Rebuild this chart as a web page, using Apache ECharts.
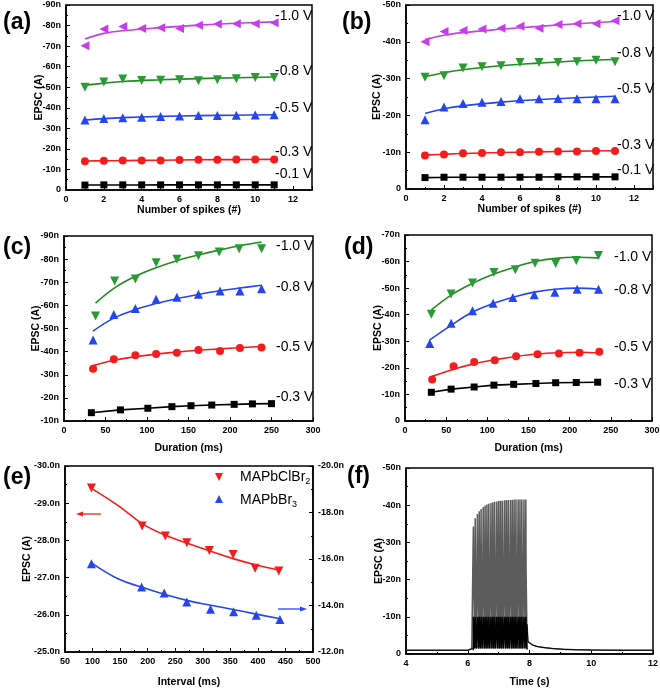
<!DOCTYPE html>
<html><head><meta charset="utf-8">
<script src="https://cdn.jsdelivr.net/npm/echarts@6/dist/echarts.min.js"></script>
<style>html,body{margin:0;padding:0;background:#fff}#c{width:660px;height:689px}</style>
</head><body><div id="c"></div>
<script>
// ---------- (a) ----------
const aX = [1,2,3,4,5,6,7,8,9,10,11];
const aV10 = [70.2,78.3,79.6,78.6,78.9,78.6,80.2,80.7,80.9,80.9,81.4];
const aV08 = [50.0,52.5,54.0,53.3,53.4,53.6,53.1,53.6,54.1,54.7,54.7];
const aV05 = [34.0,34.8,35.2,35.4,35.8,36.0,36.2,36.3,36.4,36.5,36.6];
const aV03 = [14.0,14.2,14.3,14.4,14.4,14.6,14.7,14.7,14.8,14.8,14.8];
const aV01 = [2.4,2.5,2.5,2.5,2.5,2.5,2.5,2.5,2.5,2.5,2.5];
const aFitX = [1,2,3,5,7,9,11];
const aFit10 = [73.5,76.2,77.5,79.0,80.2,81.1,81.8];
const aFit08 = [51.0,52.0,52.8,53.6,54.2,54.6,55.0];
const aFit05 = [34.0,34.7,35.2,35.8,36.2,36.4,36.6];
const aFit03 = [14.1,14.2,14.3,14.5,14.7,14.8,14.9];
const aFit01 = [2.4,2.4,2.4,2.5,2.5,2.5,2.5];
// ---------- (b) ----------
const bX = [1,2,3,4,5,6,7,8,9,10,11];
const bV10 = [40.0,42.8,43.1,43.5,43.7,44.2,43.7,44.7,44.9,44.9,45.7];
const bV08 = [30.4,30.8,32.9,33.2,33.5,34.4,34.4,34.4,34.6,35.0,34.6];
const bV05 = [18.8,22.3,23.2,23.6,23.8,24.5,24.5,24.6,24.5,24.5,24.5];
const bV03 = [9.1,9.4,9.7,9.8,10.0,10.0,10.1,10.2,10.2,10.3,10.3];
const bV01 = [3.1,3.2,3.2,3.2,3.2,3.2,3.2,3.3,3.3,3.3,3.3];
const bFitX = [1,2,3,5,7,9,11];
const bFit10 = [40.6,41.8,42.5,43.4,44.2,44.9,45.5];
const bFit08 = [30.5,31.6,32.4,33.5,34.2,34.8,35.2];
const bFit05 = [20.5,21.8,22.6,23.6,24.3,24.8,25.2];
const bFit03 = [9.2,9.45,9.65,9.9,10.1,10.3,10.4];
const bFit01 = [3.1,3.15,3.2,3.2,3.25,3.3,3.3];
// ---------- (c) ----------
const cX10 = [38,61,86,111,136,162,187,211,238];
const cV10 = [55.4,70.5,71.4,78.4,79.9,81.5,83.1,84.5,84.5];
const cX08 = [35,60,86,111,136,162,188,212,238];
const cV08 = [45.0,56.1,58.7,62.6,63.5,64.8,66.2,66.2,67.2];
const cX05 = [35,60,86,111,136,162,188,212,238];
const cV05 = [32.6,36.7,38.4,39.0,39.5,40.7,40.3,41.6,41.8];
const cX03 = [33,68,101,130,153,178,205,227,250];
const cV03 = [13.6,14.8,15.5,16.2,16.6,16.9,17.2,17.4,17.5];
const cFitX10 = [38,61,86,111,136,162,188,212,238];
const cFit10 = [61.0,67.6,72.6,76.3,79.3,81.8,84.0,85.8,87.4];
const cFitX = [35,60,86,111,136,162,188,212,238];
const cFit08 = [48.9,54.5,58.2,60.8,62.9,64.7,66.3,67.5,68.7];
const cFit05 = [34.0,36.3,37.8,38.9,39.8,40.6,41.2,41.7,42.2];
// ---------- (d) ----------
const dX10 = [32,56,82,108,134,158,183,208,235];
const dV10 = [40.2,47.8,51.9,55.9,56.9,59.4,59.3,60.4,62.3];
const dX08 = [30,56,82,107,131,157,182,209,235];
const dV08 = [29.2,36.8,41.5,44.3,46.5,47.5,48.5,49.6,49.6];
const dX05 = [33,59,84,109,135,161,187,212,236];
const dV05 = [15.6,20.6,22.2,22.9,24.4,25.1,25.4,25.7,26.1];
const dX03 = [32,56,84,108,132,159,183,208,234];
const dV03 = [10.8,12.0,12.8,13.5,13.8,14.1,14.4,14.5,14.6];
const dFitX10 = [32,56,82,108,134,158,183,208,235];
const dFit10 = [41.8,47.4,51.8,55.3,58.0,60.0,61.2,61.6,61.4];
const dFitX08 = [30,56,82,107,131,157,182,209,235];
const dFit08 = [30.5,36.0,41.0,44.2,46.6,48.5,49.6,50.0,49.6];
const dFitX05 = [33,60,85,110,135,160,186,211,236];
const dFit05 = [16.8,19.6,21.6,23.1,24.3,25.2,25.7,25.9,25.6];
// ---------- (e) ----------
const eXr = [98,190,232,271,312,355,395,438];
const eVr = [29.41,28.39,28.12,27.94,27.73,27.62,27.25,27.18];
const eXb = [98,189,230,271,314,356,397,440];
const eVb = [15.80,14.80,14.54,14.15,13.84,13.73,13.58,13.40];
const eFitX = [100,146,190,230,271,312,355,397,440];
const eFitR = [29.38,28.94,28.45,28.15,27.93,27.72,27.51,27.34,27.2];
const eFitB = [15.80,15.15,14.78,14.48,14.22,14.02,13.83,13.63,13.43];
// ---------- (f) ----------
const fBaseT = [4, 5, 6.0, 6.02, 6.13, 6.15];
const fBase = [1.0, 1.0, 1.0, 1.4, 1.4, 1.0];
const fSpikeT = [6.18,6.24,6.31,6.37,6.43,6.50,6.56,6.62,6.68,6.75,6.81,6.87,6.94,7.00,7.06,7.12,7.19,7.25,7.31,7.38,7.44,7.50,7.56,7.63,7.69,7.75,7.82,7.88];
const fPeak = [34.3,36.5,37.6,38.4,39.0,39.5,39.9,40.2,40.4,40.6,40.8,40.9,41.0,41.1,41.2,41.2,41.3,41.3,41.4,41.4,41.4,41.5,41.5,41.5,41.5,41.5,41.5,41.5];
const fShapeDt = [0, 0.002, 0.01, 0.03, 0.034, 0.05];
const fShapeLv = [1.0, null, 22, 10, 1.5, 1.2];
const fLowDt = [0, 0.001, 0.03, 0.034, 0.05];
const fLowLv = [1.0, 10, 10, 1.5, 1.2];
const fTailT = [7.92,7.95,8.0,8.1,8.25,8.5,8.75,9.1,9.5,10,11,12];
const fTail = [8.0,3.3,2.8,2.4,2.0,1.7,1.45,1.25,1.15,1.08,1.0,1.0];

// ---------- build ----------
const FONT = 'Liberation Sans, Arial, sans-serif';
const C = {mag:'#c63ee8', green:'#1e8c1e', greenM:'#2a9a36', blue:'#2446ec', red:'#f41c1c', black:'#000'};
const zip = (xs, ys) => xs.map((x, i) => [x, ys[i]]);
const fmtN = v => v === 0 ? '0' : '-' + v + 'n';
const fmtE = v => '-' + v.toFixed(1) + 'n';

function scat(g, xs, ys, color, symbol, rot, size, yi) {
  return {type:'scatter', xAxisIndex:g, yAxisIndex: yi === undefined ? g : yi, data: zip(xs, ys),
    symbol: symbol, symbolRotate: rot || 0, symbolSize: size, itemStyle:{color: color, opacity:1}, z:3};
}
function fit(g, xs, ys, color, smooth, yi) {
  return {type:'line', xAxisIndex:g, yAxisIndex: yi === undefined ? g : yi, data: zip(xs, ys),
    showSymbol:false, smooth: smooth ? 0.4 : false, lineStyle:{color: color, width:1.6}, z:2};
}

const grids = [
  {left:66, top:5, width:246, height:185},
  {left:406, top:5, width:247, height:184},
  {left:64, top:236, width:249, height:185},
  {left:405, top:235, width:247, height:186},
  {left:65, top:466, width:248, height:186},
  {left:406, top:468, width:247, height:186}
].map(g => Object.assign(g, {show:true, borderColor:'#000', borderWidth:1.5, backgroundColor:'transparent', containLabel:false, outerBoundsMode:'none'}));

function axis(extra) {
  return Object.assign({
    type:'value', nameLocation:'middle',
    axisLine:{show:true, onZero:false, lineStyle:{color:'#000', width:1.5}},
    axisTick:{show:true, inside:true, length:4, lineStyle:{color:'#000', width:1}},
    minorTick:{show:true, splitNumber:2, length:2, lineStyle:{color:'#000', width:1}},
    splitLine:{show:false},
    axisLabel:{color:'#000', fontSize:9, fontWeight:'bold', fontFamily:FONT, margin:5},
    nameTextStyle:{color:'#000', fontSize:10.5, fontWeight:'bold', fontFamily:FONT}
  }, extra);
}

const xAxes = [
  axis({gridIndex:0, min:0, max:13, interval:2, name:'Number of spikes (#)', nameGap:14, axisLabel:Object.assign(axis({}).axisLabel,{showMaxLabel:false})}),
  axis({gridIndex:1, min:0, max:13, interval:2, name:'Number of spikes (#)', nameGap:14, axisLabel:Object.assign(axis({}).axisLabel,{showMaxLabel:false})}),
  axis({gridIndex:2, min:0, max:300, interval:50, name:'Duration (ms)', nameGap:22}),
  axis({gridIndex:3, min:0, max:300, interval:50, name:'Duration (ms)', nameGap:22}),
  axis({gridIndex:4, min:50, max:500, interval:50, name:'Interval (ms)', nameGap:25}),
  axis({gridIndex:5, min:4, max:12, interval:2, name:'Time (s)', nameGap:23})
];
const yLab = f => Object.assign(axis({}).axisLabel, {formatter:f});
const yAxes = [
  axis({gridIndex:0, min:0, max:90, interval:10, name:'EPSC (A)', nameGap:21, nameMoveOverlap:false, axisLabel:yLab(fmtN)}),
  axis({gridIndex:1, min:0, max:50, interval:10, name:'EPSC (A)', nameGap:23, nameMoveOverlap:false, axisLabel:yLab(fmtN)}),
  axis({gridIndex:2, min:10, max:90, interval:10, name:'EPSC (A)', nameGap:22, nameMoveOverlap:false, axisLabel:yLab(fmtN)}),
  axis({gridIndex:3, min:0, max:70, interval:10, name:'EPSC (A)', nameGap:21, nameMoveOverlap:false, axisLabel:yLab(fmtN)}),
  axis({gridIndex:4, min:25, max:30, interval:1, name:'EPSC (A)', nameGap:32, nameMoveOverlap:false, axisLabel:yLab(fmtE)}),
  axis({gridIndex:5, min:0, max:50, interval:10, name:'EPSC (A)', nameGap:21, nameMoveOverlap:false, axisLabel:yLab(fmtN)}),
  axis({gridIndex:4, position:'right', min:12, max:20, interval:2, axisLabel:yLab(fmtE)})
];

// spike trace for (f)
const fTrace = zip(fBaseT, fBase);
const fLow = [];
fSpikeT.forEach((t, i) => {
  fShapeDt.forEach((dt, k) => fTrace.push([t + dt, fShapeLv[k] === null ? fPeak[i] : fShapeLv[k]]));
  fLowDt.forEach((dt, k) => fLow.push([t + dt, fLowLv[k]]));
});
const fTailData = zip(fTailT, fTail);

const series = [
  // (a)
  fit(0, aFitX, aFit10, C.mag, true), scat(0, aX, aV10, C.mag, 'triangle', 90, 9),
  fit(0, aFitX, aFit08, C.green, true), scat(0, aX, aV08, C.greenM, 'triangle', 180, 9),
  fit(0, aFitX, aFit05, C.blue, true), scat(0, aX, aV05, C.blue, 'triangle', 0, 9),
  fit(0, aFitX, aFit03, C.red, true), scat(0, aX, aV03, C.red, 'circle', 0, 8),
  fit(0, aFitX, aFit01, C.black, true), scat(0, aX, aV01, C.black, 'rect', 0, 7),
  // (b)
  fit(1, bFitX, bFit10, C.mag, true), scat(1, bX, bV10, C.mag, 'triangle', 90, 9),
  fit(1, bFitX, bFit08, C.green, true), scat(1, bX, bV08, C.greenM, 'triangle', 180, 9),
  fit(1, bFitX, bFit05, C.blue, true), scat(1, bX, bV05, C.blue, 'triangle', 0, 9),
  fit(1, bFitX, bFit03, C.red, true), scat(1, bX, bV03, C.red, 'circle', 0, 8),
  fit(1, bFitX, bFit01, C.black, true), scat(1, bX, bV01, C.black, 'rect', 0, 7),
  // (c)
  fit(2, cFitX10, cFit10, C.green, true), scat(2, cX10, cV10, C.greenM, 'triangle', 180, 9),
  fit(2, cFitX, cFit08, C.blue, true), scat(2, cX08, cV08, C.blue, 'triangle', 0, 9),
  fit(2, cFitX, cFit05, C.red, true), scat(2, cX05, cV05, C.red, 'circle', 0, 8),
  fit(2, cX03, cV03, C.black, false), scat(2, cX03, cV03, C.black, 'rect', 0, 7),
  // (d)
  fit(3, dFitX10, dFit10, C.green, true), scat(3, dX10, dV10, C.greenM, 'triangle', 180, 9),
  fit(3, dFitX08, dFit08, C.blue, true), scat(3, dX08, dV08, C.blue, 'triangle', 0, 9),
  fit(3, dFitX05, dFit05, C.red, true), scat(3, dX05, dV05, C.red, 'circle', 0, 8),
  fit(3, dX03, dV03, C.black, false), scat(3, dX03, dV03, C.black, 'rect', 0, 7),
  // (e)
  fit(4, eFitX, eFitR, C.red, true, 4), scat(4, eXr, eVr, C.red, 'triangle', 180, 9, 4),
  fit(4, eFitX, eFitB, C.blue, true, 6), scat(4, eXb, eVb, C.blue, 'triangle', 0, 9, 6),
  // (f)
  {type:'line', xAxisIndex:5, yAxisIndex:5, data:fTrace.concat(fTailData), showSymbol:false, lineStyle:{color:'#5c5c5c', width:1.5}},
  {type:'line', xAxisIndex:5, yAxisIndex:5, data:fLow, showSymbol:false, lineStyle:{color:'#000', width:1.5}},
  {type:'line', xAxisIndex:5, yAxisIndex:5, data:zip(fBaseT, fBase).concat(fTailData), showSymbol:false, lineStyle:{color:'#000', width:1}}
];

const txt = (x, y, t, size, bold) => ({type:'text', x:x, y:y, style:{text:t, fill:'#000', font:(bold?'bold ':'') + size + 'px ' + FONT, textVerticalAlign:'middle', verticalAlign:'middle'}});
const graphic = [
  txt(3, 23, '(a)', 23, true), txt(342, 23, '(b)', 23, true), txt(3, 248, '(c)', 23, true),
  txt(344, 248, '(d)', 23, true), txt(3, 478, '(e)', 23, true), txt(347, 477, '(f)', 23, true),
  txt(275, 16, '-1.0 V', 14), txt(275, 71, '-0.8 V', 14), txt(275, 108, '-0.5 V', 14), txt(275, 152, '-0.3 V', 14), txt(275, 174, '-0.1 V', 14),
  txt(617, 16, '-1.0 V', 14), txt(617, 53, '-0.8 V', 14), txt(617, 89, '-0.5 V', 14), txt(617, 145, '-0.3 V', 14), txt(617, 170, '-0.1 V', 14),
  txt(276, 246, '-1.0 V', 14), txt(276, 287, '-0.8 V', 14), txt(276, 347, '-0.5 V', 14), txt(276, 397, '-0.3 V', 14),
  txt(614, 257, '-1.0 V', 14), txt(614, 290, '-0.8 V', 14), txt(614, 347, '-0.5 V', 14), txt(614, 384, '-0.3 V', 14),
  // legend (e)
  {type:'polygon', shape:{points:[[215,473],[223,473],[219,481]]}, style:{fill:C.red}},
  {type:'polygon', shape:{points:[[215,503],[223,503],[219,495]]}, style:{fill:C.blue}},
  {type:'text', x:240, y:468, style:{text:'{a|MAPbClBr}{s|2}', rich:{a:{fontSize:14, fontFamily:FONT, lineHeight:18, fill:'#000'}, s:{fontSize:9, fontFamily:FONT, lineHeight:10, verticalAlign:'bottom', fill:'#000'}}, fill:'#000'}},
  {type:'text', x:240, y:491, style:{text:'{a|MAPbBr}{s|3}', rich:{a:{fontSize:14, fontFamily:FONT, lineHeight:18, fill:'#000'}, s:{fontSize:9, fontFamily:FONT, lineHeight:10, verticalAlign:'bottom', fill:'#000'}}, fill:'#000'}},
  // arrows (e)
  {type:'line', shape:{x1:81, y1:514, x2:101, y2:514}, style:{stroke:C.red, lineWidth:1.3}},
  {type:'polygon', shape:{points:[[76,514],[83,511.5],[83,516.5]]}, style:{fill:C.red}},
  {type:'line', shape:{x1:278, y1:609, x2:302, y2:609}, style:{stroke:C.blue, lineWidth:1.3}},
  {type:'polygon', shape:{points:[[307,609],[300,606.5],[300,611.5]]}, style:{fill:C.blue}}
];

const chart = echarts.init(document.getElementById('c'), null, {renderer:'canvas'});
chart.setOption({
  animation:false, backgroundColor:'#fff',
  grid: grids, xAxis: xAxes, yAxis: yAxes, series: series, graphic: graphic
});
</script></body></html>
